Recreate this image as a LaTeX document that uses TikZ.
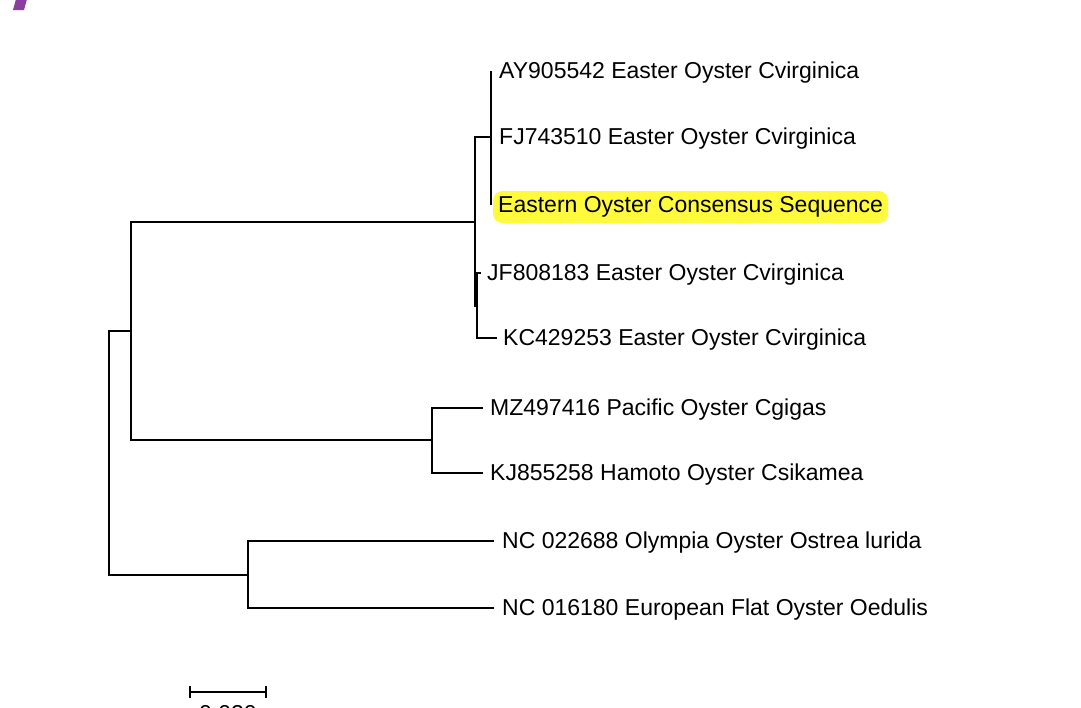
\documentclass[tikz,border=0pt]{standalone}
\usepackage{fontspec}
\setmainfont{Liberation Sans}
\usetikzlibrary{positioning}
\definecolor{hiliteyellow}{RGB}{255,250,60}
\definecolor{cornerpurple}{RGB}{140,62,158}

\begin{document}
\begin{tikzpicture}[x=1pt,y=-1pt]
  % Styles local to this figure.
  \tikzset{
    branch/.style={line width=1.8pt},
    leaf/.style={inner sep=0pt,yshift=-2pt,font=\fontsize{23}{27}\selectfont},
    hilite/.style={leaf,fill=hiliteyellow,rounded corners=9pt,inner xsep=5pt,inner ysep=5.5pt}
  }
  \useasboundingbox (0,0) rectangle (1081,707);

  % Corner mark of the slide.
  \fill[cornerpurple] (16,-1) -- (27,-1) -- (24,10) -- (13,10) -- cycle;

  % Inner nodes of the tree.
  \coordinate (root) at (109,453);
  \coordinate (crass) at (131,331);
  \coordinate (virg) at (475,222);
  \coordinate (virgA) at (491,137);
  \coordinate (virgB) at (477,306);
  \coordinate (pacif) at (432,440);
  \coordinate (flat) at (248,575);

  % Leaf tips.
  \coordinate (tAY) at (491,71);
  \coordinate (tFJ) at (491,137);
  \coordinate (tEC) at (491,205);
  \coordinate (tJF) at (481,273);
  \coordinate (tKC) at (497,338);
  \coordinate (tMZ) at (483,408);
  \coordinate (tKJ) at (483,473);
  \coordinate (tNCa) at (494,541);
  \coordinate (tNCb) at (494,608);

  % Leaf labels.
  \node[leaf,right=8pt of tAY] (AY) {AY905542 Easter Oyster Cvirginica};
  \node[leaf,right=8pt of tFJ] (FJ) {FJ743510 Easter Oyster Cvirginica};
  \node[hilite,right=2pt of tEC] (EC) {Eastern Oyster Consensus Sequence};
  \node[leaf,right=6pt of tJF] (JF) {JF808183 Easter Oyster Cvirginica};
  \node[leaf,right=6pt of tKC] (KC) {KC429253 Easter Oyster Cvirginica};
  \node[leaf,right=7pt of tMZ] (MZ) {MZ497416 Pacific Oyster Cgigas};
  \node[leaf,right=7pt of tKJ] (KJ) {KJ855258 Hamoto Oyster Csikamea};
  \node[leaf,right=8pt of tNCa] (NCa) {NC 022688 Olympia Oyster Ostrea lurida};
  \node[leaf,right=8pt of tNCb] (NCb) {NC 016180 European Flat Oyster Oedulis};

  % Branches, parent to child.
  \foreach \p/\c in {root/crass,root/flat,crass/virg,crass/pacif,
                     virg/virgA,virg/virgB,virgA/tAY,virgA/tEC,
                     virgB/tJF,virgB/tKC,pacif/tMZ,pacif/tKJ,
                     flat/tNCa,flat/tNCb}
    \draw[branch] (\p) |- (\c);

  % Scale bar.
  \coordinate (sbL) at (190,692);
  \coordinate (sbR) at (266,692);
  \draw[branch] (sbL) -- (sbR);
  \draw[branch] ([yshift=-6pt]sbL) -- ([yshift=6pt]sbL);
  \draw[branch] ([yshift=-6pt]sbR) -- ([yshift=6pt]sbR);
  \node[leaf,anchor=north] (sbT) at (228,703) {0.020};
\end{tikzpicture}
\end{document}
